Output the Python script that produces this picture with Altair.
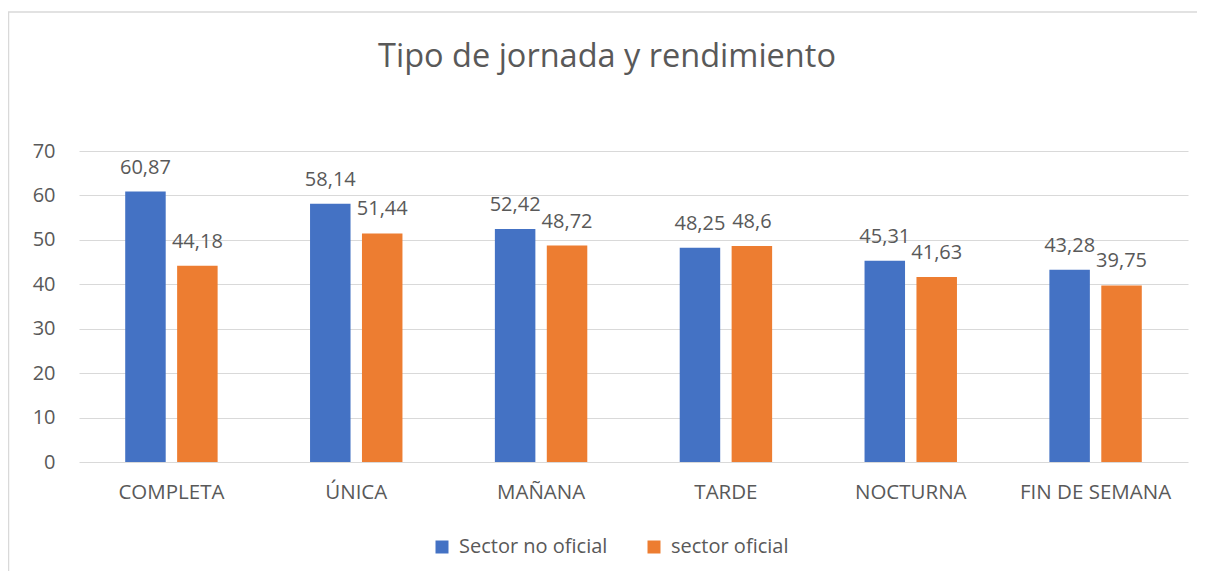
import altair as alt
import pandas as pd

titulo = "Tipo de jornada y rendimiento"
categorias = ["COMPLETA", "ÚNICA", "MAÑANA", "TARDE", "NOCTURNA", "FIN DE SEMANA"]
series = ["Sector no oficial", "sector oficial"]
no_oficial = [60.87, 58.14, 52.42, 48.25, 45.31, 43.28]
oficial = [44.18, 51.44, 48.72, 48.6, 41.63, 39.75]
y_ticks = [0, 10, 20, 30, 40, 50, 60, 70]

rows = []
for c, a, b in zip(categorias, no_oficial, oficial):
    rows.append({"cat": c, "serie": series[0], "valor": a, "etiqueta": str(a).replace(".", ",")})
    rows.append({"cat": c, "serie": series[1], "valor": b, "etiqueta": str(b).replace(".", ",")})
df = pd.DataFrame(rows)

FONT = "Open Sans"
GRAY = "#595959"

base = alt.Chart(df).encode(
    x=alt.X("cat:N", sort=categorias, title=None,
            scale=alt.Scale(paddingInner=0.5, paddingOuter=0.25),
            axis=alt.Axis(labelAngle=0, labelPadding=20, labelFontSize=20.5,
                          labelColor=GRAY, labelFont=FONT, grid=False,
                          domain=False, ticks=False)),
    xOffset=alt.XOffset("serie:N", sort=series,
                        scale=alt.Scale(paddingInner=0.22, paddingOuter=0)),
    y=alt.Y("valor:Q", title=None,
            scale=alt.Scale(domain=[0, 70], nice=False),
            axis=alt.Axis(values=y_ticks, labelPadding=24, labelFontSize=20,
                          labelColor=GRAY, labelFont=FONT, grid=True,
                          gridColor="#d9d9d9", domain=False, ticks=False)),
)

bars = base.mark_bar().encode(
    color=alt.Color("serie:N", sort=series,
                    scale=alt.Scale(domain=series, range=["#4472C4", "#ED7D31"]),
                    legend=alt.Legend(title=None, orient="none", legendX=353, legendY=386,
                                      direction="horizontal", symbolType="square",
                                      symbolSize=169, symbolStrokeWidth=0,
                                      labelFontSize=20, labelColor=GRAY, labelFont=FONT,
                                      labelOffset=7, columnPadding=36))
)

labels = base.mark_text(fontSize=20, font=FONT, color=GRAY, baseline="middle",
                        dy=-24).encode(text="etiqueta:N")

one = pd.DataFrame({"t": [titulo]})

frame = alt.Chart(one).mark_rect(
    fill=None, stroke="#d9d9d9", strokeWidth=1.5
).encode(x=alt.value(-70.5), x2=alt.value(1300), y=alt.value(-139), y2=alt.value(500))

title = alt.Chart(one).mark_text(
    fontSize=32.5, font=FONT, color=GRAY, align="center", baseline="alphabetic"
).encode(text="t:N", x=alt.value(528), y=alt.value(-84))

chart = alt.layer(frame, bars, labels, title).properties(
    width=1109, height=311,
    autosize=alt.AutoSizeParams(type="none"),
    padding={"left": 71, "top": 143, "right": 9, "bottom": 109},
).configure_view(stroke=None)

chart.save("out.html", embed_options={"renderer": "svg", "actions": False})
